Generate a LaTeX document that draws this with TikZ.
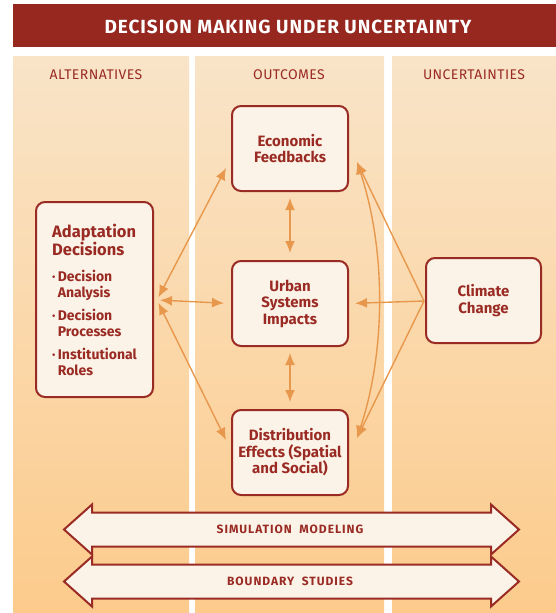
\documentclass[tikz,border=0pt]{standalone}
\usepackage{fontspec}
\setmainfont{Fira Sans}
\newfontfamily\spaced{Fira Sans}[LetterSpace=8]
\newfontfamily\titlefont{Fira Sans}[LetterSpace=5]
\newfontfamily\headfont{Fira Sans}[LetterSpace=3]
\usetikzlibrary{arrows.meta}

\definecolor{barred}{HTML}{962820}
\definecolor{boxred}{HTML}{9A2B24}
\definecolor{boxfill}{HTML}{FBF3E7}
\definecolor{coltop}{HTML}{F9E4C8}
\definecolor{colbot}{HTML}{FCCB8C}
\definecolor{arrowc}{HTML}{E8984C}

\newcommand{\bigsz}{\fontsize{16.5}{17}\selectfont}
\newcommand{\itemsz}{\fontsize{14}{15.5}\selectfont}
\newcommand{\dotgap}{\hphantom{\textperiodcentered\,}}

\tikzset{
  box/.style={draw=boxred, line width=2pt, fill=boxfill, rounded corners=9pt,
    text=boxred, font=\bfseries\fontsize{15}{16.5}\selectfont, align=center,
    minimum width=116pt, minimum height=85pt, inner sep=2pt},
  link/.style={draw=arrowc, line width=1.4pt},
  both/.style={link, {Latex[length=12pt,width=10pt]}-{Latex[length=12pt,width=10pt]}},
  tohead/.style={link, -{Latex[length=12pt,width=10pt]}},
  colhead/.style={text=boxred, font=\headfont\fontsize{14}{16}\selectfont},
  fatarrow/.style={draw=boxred, line width=2pt, fill=boxfill, line join=miter}
}

\begin{document}
\begin{tikzpicture}[x=1pt,y=-1pt]
\useasboundingbox (0,0) rectangle (556,613);

% columns and title bar
\shade[top color=coltop, bottom color=colbot] (13,56) rectangle (189,613);
\shade[top color=coltop, bottom color=colbot] (195,56) rectangle (384,613);
\shade[top color=coltop, bottom color=colbot] (392,56) rectangle (556,613);
\fill[barred] (13,4) rectangle (556,47);
\node[text=white, font=\titlefont\bfseries\fontsize{19}{21}\selectfont] (title) at (288,26.5) {DECISION MAKING UNDER UNCERTAINTY};

\node[colhead] (alt) at (96,75) {ALTERNATIVES};
\node[colhead] (out) at (289,75) {OUTCOMES};
\node[colhead] (unc) at (474,75) {UNCERTAINTIES};

% boxes
\node[box, minimum width=117pt, minimum height=195pt, align=left,
  font=\bfseries\itemsz] (adapt) at (94.5,299.5)
  {\bigsz Adaptation\\\bigsz Decisions\\[11pt]
   \textperiodcentered\,Decision\\\dotgap Analysis\\[8pt]
   \textperiodcentered\,Decision\\\dotgap Processes\\[8pt]
   \textperiodcentered\,Institutional\\\dotgap Roles};
\node[box] (econ) at (290,148.5) {Economic\\Feedbacks};
\node[box] (urban) at (290,303.5) {Urban\\Systems\\Impacts};
\node[box] (distr) at (290,452.5) {Distribution\\Effects (Spatial\\and Social)};
\node[box, minimum width=115pt] (climate) at (483.5,300.5) {Climate\\Change};

% arrow ends
\coordinate (aHub) at (157,300);
\coordinate (cHub) at (424,301);
\coordinate (econL) at (226,168);
\coordinate (distrL) at (226,440);
\coordinate (econR) at (357,162);
\coordinate (distrR) at (357,438);

\draw[both, shorten <=3pt] (aHub) -- (econL);
\draw[both, shorten <=3pt, shorten >=7pt] (aHub) -- (urban.west);
\draw[both, shorten <=3pt] (aHub) -- (distrL);
\draw[both, shorten <=6pt, shorten >=7pt] (econ) -- (urban);
\draw[both, shorten <=6pt, shorten >=7pt] (urban) -- (distr);

\draw[tohead] (cHub) -- (econR);
\draw[tohead, shorten >=6pt] (cHub) -- (urban.east);
\draw[tohead] (cHub) -- (distrR);
\draw[both] (econR) .. controls (386,250) and (386,350) .. (distrR);

% modelling bands
\foreach \yc/\txt in {529.5/SIMULATION\ \ MODELING, 581.5/BOUNDARY\ \ STUDIES}{
  \draw[fatarrow] (64,\yc) -- (92,\yc-25) -- (92,\yc-17) -- (491,\yc-17)
    -- (491,\yc-25) -- (519,\yc) -- (491,\yc+25) -- (491,\yc+17)
    -- (92,\yc+17) -- (92,\yc+25) -- cycle;
  \node[text=boxred, font=\spaced\bfseries\fontsize{12}{14}\selectfont] at (290,\yc) {\txt};
}
\end{tikzpicture}
\end{document}
